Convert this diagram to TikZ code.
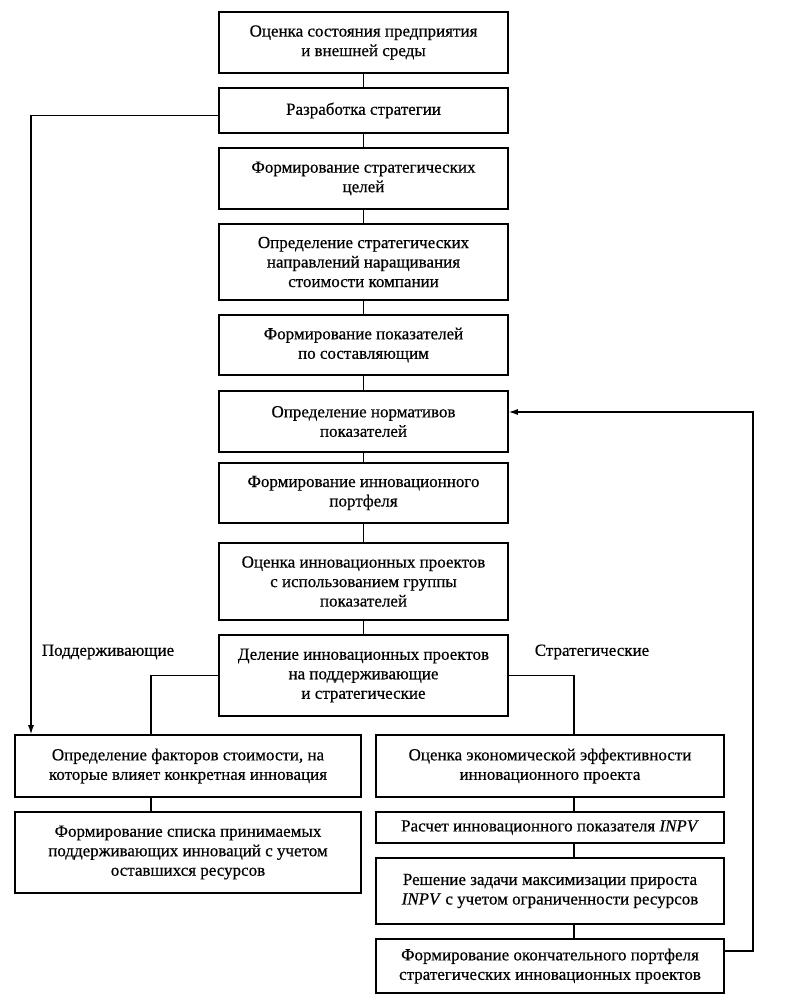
\documentclass[tikz,border=0pt]{standalone}
\usepackage{fontspec}
\setmainfont{Liberation Serif}[FakeBold=0.5]
\usetikzlibrary{arrows.meta}
\begin{document}
\begin{tikzpicture}[x=1pt,y=-1pt,
  box/.style={draw,line width=1.6pt,align=center,inner sep=0pt,
    font=\fontsize{17}{19.5}\selectfont},
  cbox/.style={box,minimum width=289pt},
  lbox/.style={box,minimum width=346pt},
  rbox/.style={box,minimum width=348pt},
  conn/.style={line width=1.2pt},
  arr/.style={conn,-{Latex[length=9pt,width=6pt]}},
  lab/.style={font=\fontsize{17}{19.5}\selectfont}]
\useasboundingbox (0,0) rectangle (785,1003);
\node[cbox,minimum height=61pt] (b1) at (363.5,42.5) {Оценка состояния предприятия\\и внешней среды};
\node[cbox,minimum height=45pt] (b2) at (363.5,110.5) {Разработка стратегии};
\node[cbox,minimum height=61pt] (b3) at (363.5,178.5) {Формирование стратегических\\целей};
\node[cbox,minimum height=76pt] (b4) at (363.5,262) {Определение стратегических\\направлений наращивания\\стоимости компании};
\node[cbox,minimum height=60pt] (b5) at (363.5,345) {Формирование показателей\\по составляющим};
\node[cbox,minimum height=61pt] (b6) at (363.5,421.5) {Определение нормативов\\показателей};
\node[cbox,minimum height=60pt] (b7) at (363.5,493) {Формирование инновационного\\портфеля};
\node[cbox,minimum height=77pt] (b8) at (363.5,581.5) {Оценка инновационных проектов\\с использованием группы\\показателей};
\node[cbox,minimum height=81pt] (b9) at (363.5,675.5) {Деление инновационных проектов\\на поддерживающие\\и стратегические};
\node[lbox,minimum height=62pt] (l1) at (188,766) {Определение факторов стоимости, на\\которые влияет конкретная инновация};
\node[lbox,minimum height=81pt] (l2) at (188,852.5) {Формирование списка принимаемых\\поддерживающих инноваций с учетом\\оставшихся ресурсов};
\node[rbox,minimum height=62pt] (r1) at (550,766) {Оценка экономической эффективности\\инновационного проекта};
\node[rbox,minimum height=31pt] (r2) at (550,827.5) {Расчет инновационного показателя \textit{INPV}};
\node[rbox,minimum height=66pt] (r3) at (550,891) {Решение задачи максимизации прироста\\\textit{INPV} с учетом ограниченности ресурсов};
\node[rbox,minimum height=54pt] (r4) at (550,966) {Формирование окончательного портфеля\\стратегических инновационных проектов};
\node[lab] (tl) at (108,652) {Поддерживающие};
\node[lab] (tr) at (592,652) {Стратегические};
\draw[conn] (b1) -- (b2);
\draw[conn] (b2) -- (b3);
\draw[conn] (b3) -- (b4);
\draw[conn] (b4) -- (b5);
\draw[conn] (b5) -- (b6);
\draw[conn] (b6) -- (b7);
\draw[conn] (b7) -- (b8);
\draw[conn] (b8) -- (b9);
\draw[conn] (b9.west) -| ([xshift=-37pt]l1.north);
\draw[conn] (b9.east) -| ([xshift=24pt]r1.north);
\draw[conn] ([xshift=-37pt]l1.south) -- ([xshift=-37pt]l2.north);
\draw[conn] ([xshift=24pt]r1.south) -- ([xshift=24pt]r2.north);
\draw[conn] ([xshift=24pt]r2.south) -- ([xshift=24pt]r3.north);
\draw[conn] ([xshift=24pt]r3.south) -- ([xshift=24pt]r4.north);
\draw[arr] ([yshift=-5pt]b2.west) -| ([xshift=-157pt]l1.north);
\coordinate (fb) at (753,412);
\draw[arr] ([yshift=15pt]r4.east) -| (fb) -- ([yshift=9.5pt]b6.east);
\end{tikzpicture}
\end{document}
